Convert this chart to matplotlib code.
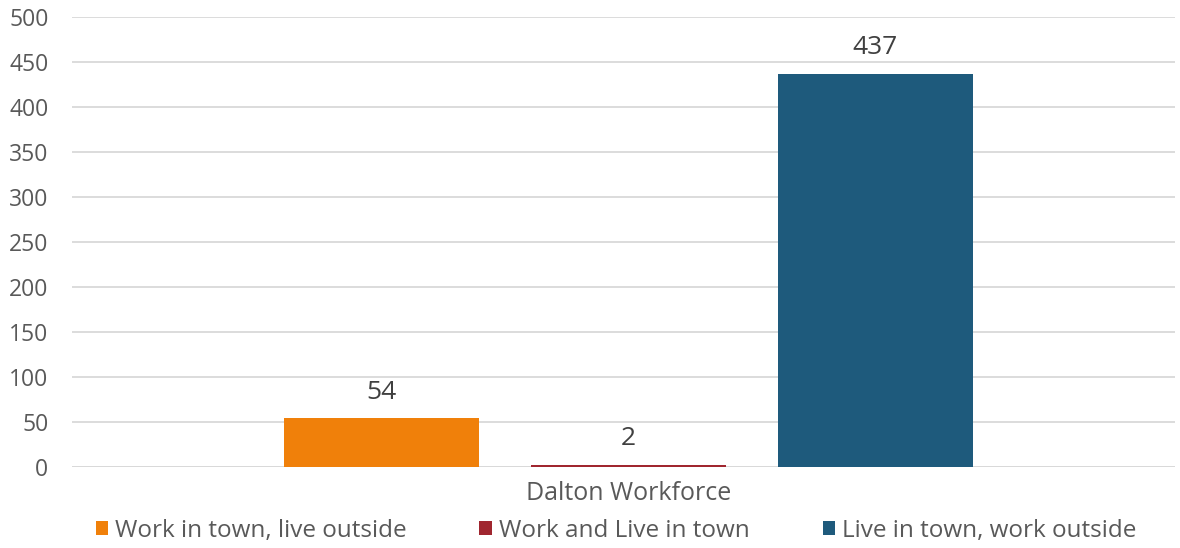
import matplotlib
matplotlib.use("Agg")
import matplotlib.pyplot as plt
from matplotlib.patches import Patch

category = "Dalton Workforce"
series_names = ["Work in town, live outside", "Work and Live in town", "Live in town, work outside"]
values = [54, 2, 437]
colors = ["#F0800A", "#A0262F", "#1E5A7C"]
yticks = [0, 50, 100, 150, 200, 250, 300, 350, 400, 450, 500]

plt.rcParams['font.family'] = ['Open Sans', 'DejaVu Sans']
txt = "#595959"

fig = plt.figure(figsize=(11.8, 5.48), dpi=100)
ax = fig.add_axes([72/1180, 1-467/548, (1175-72)/1180, (467-17)/548])

xs = [0, 1, 2]
bars = ax.bar(xs, values, width=0.79, color=colors, zorder=3)
for x, v in zip(xs, values):
    ax.annotate(str(v), (x, v), xytext=(0, 10), textcoords="offset points",
                ha="center", va="bottom", fontsize=19, color="#404040")

ax.set_xlim(-1.253, 3.213)
ax.set_ylim(0, 500)
ax.set_yticks(yticks)
ax.set_yticklabels([str(t) for t in yticks], fontsize=16.5, color=txt)
ax.yaxis.grid(True, color="#D9D9D9", linewidth=1.3, zorder=0)
ax.set_xticks([1])
ax.set_xticklabels([category], fontsize=18, color=txt)
ax.tick_params(axis='both', length=0)
ax.tick_params(axis='y', pad=17)
ax.tick_params(axis='x', pad=10)
for s in ax.spines.values():
    s.set_visible(False)
ax.axhline(0, color="#D9D9D9", linewidth=1.3, zorder=2)

handles = [Patch(facecolor=c, label=n) for c, n in zip(colors, series_names)]
fig.legend(handles=handles, loc="center", bbox_to_anchor=(0.522, 1-531/548), ncol=3,
           frameon=False, fontsize=17.5, handlelength=0.5, handleheight=0.5,
           handletextpad=0.3, columnspacing=3.0, labelcolor=txt)

fig.savefig("out.png", dpi=100)
